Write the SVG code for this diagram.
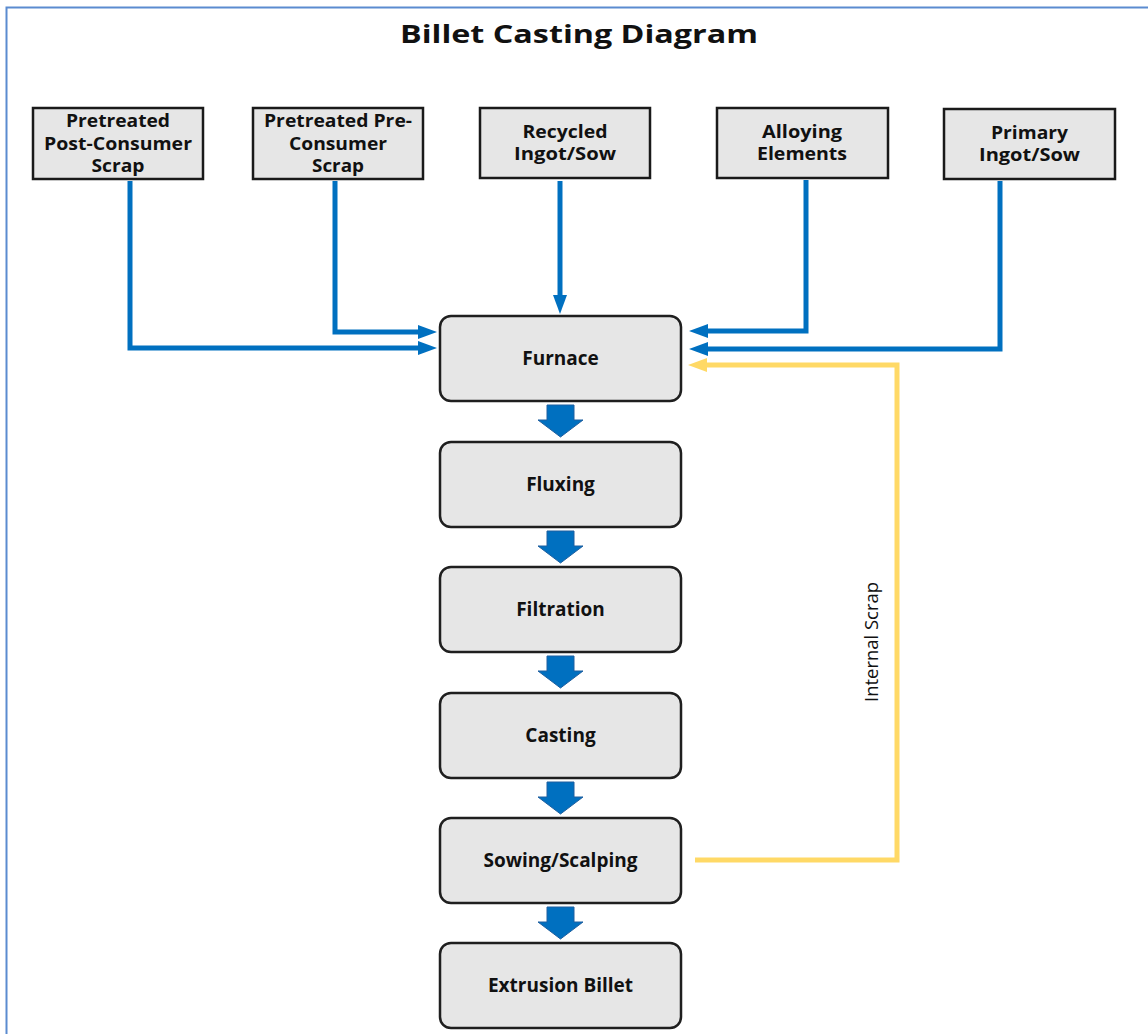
<svg xmlns="http://www.w3.org/2000/svg" width="1148" height="1034" viewBox="0 0 1148 1034">
  <style>
    .src { fill: #e6e6e6; stroke: #1a1a1a; stroke-width: 2.5; }
    .step { fill: #e6e6e6; stroke: #1f1f1f; stroke-width: 2.5; }
    .lbl { font-family: "Open Sans", "Liberation Sans", sans-serif; font-weight: bold; fill: #111; text-anchor: middle; }
    .top { font-size: 18px; }
    .main { font-size: 19px; }
    .blue { fill: none; stroke: #0070c0; stroke-width: 5; }
    .yellow { fill: none; stroke: #ffd966; stroke-width: 5; }
    .blk { fill: #0070c0; stroke: #1f5f9f; stroke-width: 1; }
  </style>
  <defs>
    <marker id="ah-blue" markerUnits="userSpaceOnUse" markerWidth="20" markerHeight="14" refX="0" refY="7" orient="auto">
      <path d="M0,0 L19,7 L0,14 z" fill="#0070c0"/>
    </marker>
    <marker id="ah-yellow" markerUnits="userSpaceOnUse" markerWidth="20" markerHeight="14" refX="0" refY="7" orient="auto">
      <path d="M0,0 L19,7 L0,14 z" fill="#ffd966"/>
    </marker>
  </defs>

  <rect width="1148" height="1034" fill="#ffffff"/>
  <path d="M6.5,1034 V7.5 H1148" fill="none" stroke="#5b8bd0" stroke-width="2"/>

  <text x="400" y="43" class="lbl" style="font-size:25px;text-anchor:start" textLength="358" lengthAdjust="spacingAndGlyphs">Billet Casting Diagram</text>

  <g id="connectors">
    <path class="blue" d="M130,181 V348 H418" marker-end="url(#ah-blue)"/>
    <path class="blue" d="M335,181 V332 H418" marker-end="url(#ah-blue)"/>
    <path class="blue" d="M560,181 V295" marker-end="url(#ah-blue)"/>
    <path class="blue" d="M806,180 V331 H708" marker-end="url(#ah-blue)"/>
    <path class="blue" d="M1000,181 V349 H708" marker-end="url(#ah-blue)"/>
    <path class="yellow" d="M695,860 H897 V365 H707" marker-end="url(#ah-yellow)"/>
    <text transform="translate(878,642) rotate(-90)" style="font-family:'Open Sans','Liberation Sans',sans-serif;font-size:18px;fill:#111;text-anchor:middle" textLength="120" lengthAdjust="spacingAndGlyphs">Internal Scrap</text>
    <g id="block-arrows">
      <path class="blk" d="M547,405 H574 V420 H583 L560.5,437 L538,420 H547 Z"/>
      <path class="blk" d="M547,531 H574 V546 H583 L560.5,563 L538,546 H547 Z"/>
      <path class="blk" d="M547,656 H574 V671 H583 L560.5,688 L538,671 H547 Z"/>
      <path class="blk" d="M547,782 H574 V797 H583 L560.5,814 L538,797 H547 Z"/>
      <path class="blk" d="M547,907 H574 V922 H583 L560.5,939 L538,922 H547 Z"/>
    </g>
  </g>

  <g id="post-consumer">
    <rect class="src" x="33" y="108" width="170" height="71"/>
    <text class="lbl top" x="118" y="127" textLength="104" lengthAdjust="spacingAndGlyphs">Pretreated</text>
    <text class="lbl top" x="118" y="149.5" textLength="148" lengthAdjust="spacingAndGlyphs">Post-Consumer</text>
    <text class="lbl top" x="118" y="172" textLength="53" lengthAdjust="spacingAndGlyphs">Scrap</text>
  </g>
  <g id="pre-consumer">
    <rect class="src" x="253" y="108" width="170" height="71"/>
    <text class="lbl top" x="338" y="127" textLength="148" lengthAdjust="spacingAndGlyphs">Pretreated Pre-</text>
    <text class="lbl top" x="338" y="149.5" textLength="98" lengthAdjust="spacingAndGlyphs">Consumer</text>
    <text class="lbl top" x="338" y="172" textLength="52" lengthAdjust="spacingAndGlyphs">Scrap</text>
  </g>
  <g id="recycled">
    <rect class="src" x="480" y="108" width="170" height="70"/>
    <text class="lbl top" x="565" y="138" textLength="85" lengthAdjust="spacingAndGlyphs">Recycled</text>
    <text class="lbl top" x="565" y="160" textLength="102" lengthAdjust="spacingAndGlyphs">Ingot/Sow</text>
  </g>
  <g id="alloying">
    <rect class="src" x="717" y="108" width="171" height="70"/>
    <text class="lbl top" x="802" y="138" textLength="80" lengthAdjust="spacingAndGlyphs">Alloying</text>
    <text class="lbl top" x="802" y="160" textLength="90" lengthAdjust="spacingAndGlyphs">Elements</text>
  </g>
  <g id="primary">
    <rect class="src" x="944" y="109" width="171" height="70"/>
    <text class="lbl top" x="1029.5" y="139" textLength="77" lengthAdjust="spacingAndGlyphs">Primary</text>
    <text class="lbl top" x="1029.5" y="161" textLength="101" lengthAdjust="spacingAndGlyphs">Ingot/Sow</text>
  </g>

  <g id="furnace">
    <rect class="step" x="440" y="316" width="241" height="85" rx="11"/>
    <text class="lbl main" x="560.5" y="365">Furnace</text>
  </g>
  <g id="fluxing">
    <rect class="step" x="440" y="442" width="241" height="85" rx="11"/>
    <text class="lbl main" x="560.5" y="491">Fluxing</text>
  </g>
  <g id="filtration">
    <rect class="step" x="440" y="567" width="241" height="85" rx="11"/>
    <text class="lbl main" x="560.5" y="616">Filtration</text>
  </g>
  <g id="casting">
    <rect class="step" x="440" y="693" width="241" height="85" rx="11"/>
    <text class="lbl main" x="560.5" y="742">Casting</text>
  </g>
  <g id="sowing">
    <rect class="step" x="440" y="818" width="241" height="85" rx="11"/>
    <text class="lbl main" x="560.5" y="867">Sowing/Scalping</text>
  </g>
  <g id="extrusion">
    <rect class="step" x="440" y="943" width="241" height="85" rx="11"/>
    <text class="lbl main" x="560.5" y="992">Extrusion Billet</text>
  </g>
</svg>
